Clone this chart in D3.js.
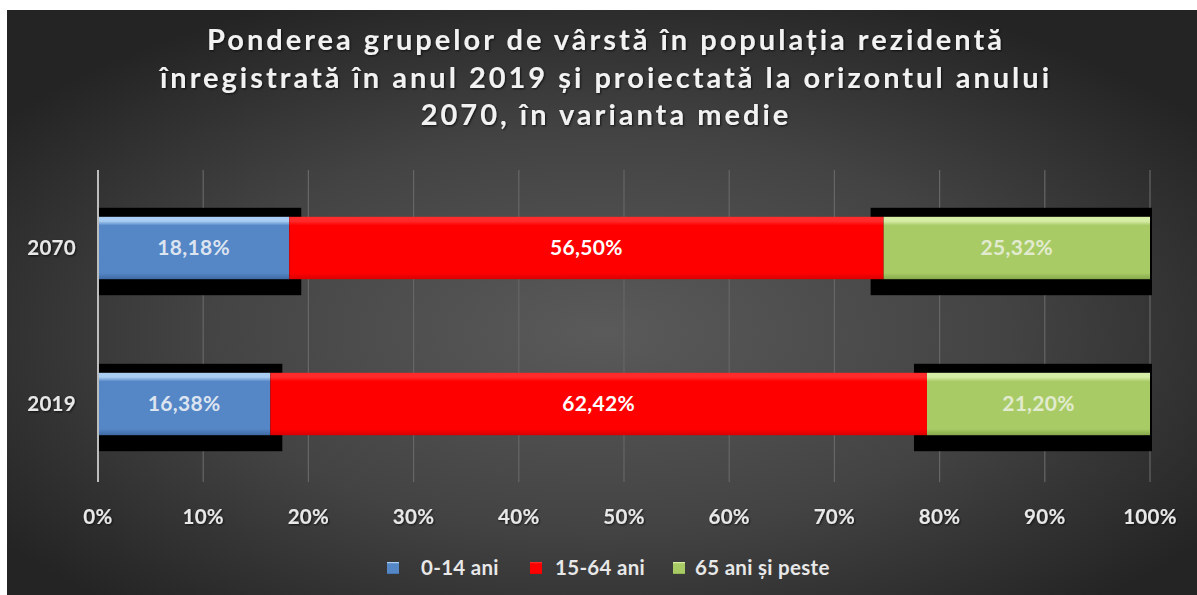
<!DOCTYPE html>
<html>
<head>
<meta charset="utf-8">
<script src="https://cdn.jsdelivr.net/npm/d3@7"></script>
<style>
  html, body { margin: 0; padding: 0; background: #fff; }
  svg { display: block; }
  text { font-family: Lato, "Open Sans", sans-serif; font-weight: bold; }
</style>
</head>
<body>
<div id="container"></div>
<script>
// chart data
var years = ["2070", "2019"];
var groups = ["0-14 ani", "15-64 ani", "65 ani și peste"];
var young = [18.18, 16.38];
var adult = [56.50, 62.42];
var old = [25.32, 21.20];
var ticks = [0, 10, 20, 30, 40, 50, 60, 70, 80, 90, 100];
var titleLines = [
  "Ponderea grupelor de vârstă în populația rezidentă",
  "înregistrată în anul 2019 și proiectată la orizontul anului",
  "2070, în varianta medie"
];

var w = 1197, h = 595;

var svg = d3.select("div#container")
  .append("svg")
  .attr("width", w)
  .attr("height", h);

var defs = svg.append("defs");

// dark radial background
var bg = defs.append("radialGradient")
  .attr("id", "bg")
  .attr("cx", "50%").attr("cy", "55%").attr("r", "62%");
bg.append("stop").attr("offset", "0%").attr("stop-color", "#5a5a5a");
bg.append("stop").attr("offset", "55%").attr("stop-color", "#434343");
bg.append("stop").attr("offset", "100%").attr("stop-color", "#242424");

// bevel gradients for bars
var colors = [
  { id: "g0", top: "#a9cdf3", main: "#5586c6", bot: "#3f6aa3" },
  { id: "g1", top: "#ff2a2a", main: "#ff0000", bot: "#d80000" },
  { id: "g2", top: "#d6eda6", main: "#a8cb66", bot: "#86a84a" }
];
colors.forEach(function(c) {
  var g = defs.append("linearGradient")
    .attr("id", c.id).attr("x1", 0).attr("y1", 0).attr("x2", 0).attr("y2", 1);
  g.append("stop").attr("offset", "0%").attr("stop-color", c.top);
  g.append("stop").attr("offset", "7%").attr("stop-color", c.top);
  g.append("stop").attr("offset", "14%").attr("stop-color", c.main);
  g.append("stop").attr("offset", "90%").attr("stop-color", c.main);
  g.append("stop").attr("offset", "100%").attr("stop-color", c.bot);
});

var shadow = defs.append("filter").attr("id", "ts")
  .attr("x", "-5%").attr("y", "-20%").attr("width", "110%").attr("height", "140%");
shadow.append("feDropShadow")
  .attr("dx", 1).attr("dy", 1).attr("stdDeviation", 1)
  .attr("flood-color", "#000").attr("flood-opacity", 0.7);

svg.append("rect")
  .attr("x", 7).attr("y", 10)
  .attr("width", w - 7).attr("height", h - 10)
  .attr("fill", "url(#bg)");

// scales
var margin = { left: 98, right: 47, top: 170, bottom: 113 };
var x = d3.scaleLinear().domain([0, 100]).range([margin.left, w - margin.right]);
var y = d3.scaleBand().domain(years)
  .range([margin.top, h - margin.bottom])
  .paddingInner(0.6).paddingOuter(0.3);

// gridlines
svg.append("g")
  .selectAll("line")
  .data(ticks.slice(1))
  .join("line")
  .attr("x1", function(d) { return x(d); })
  .attr("x2", function(d) { return x(d); })
  .attr("y1", margin.top)
  .attr("y2", h - margin.bottom)
  .attr("stroke", "#666")
  .attr("stroke-width", 1.2);

// stack the data
var rows = years.map(function(yr, i) {
  return { year: yr, vals: [young[i], adult[i], old[i]] };
});

var segs = [];
rows.forEach(function(r) {
  var acc = 0;
  r.vals.forEach(function(v, k) {
    segs.push({ year: r.year, k: k, x0: acc, x1: acc + v, v: v });
    acc += v;
  });
});

var bh = y.bandwidth();

// black shadow boxes behind the outer segments
svg.append("g")
  .selectAll("rect")
  .data(segs.filter(function(d) { return d.k !== 1; }))
  .join("rect")
  .attr("x", function(d) { return x(d.x0) - (d.k === 2 ? 13 : 0); })
  .attr("width", function(d) { return x(d.x1) - x(d.x0) + (d.k === 2 ? 15 : 12); })
  .attr("y", function(d) { return y(d.year) - 9; })
  .attr("height", bh + 25)
  .attr("fill", "#000");

// bars
svg.append("g")
  .selectAll("rect")
  .data(segs)
  .join("rect")
  .attr("x", function(d) { return x(d.x0); })
  .attr("width", function(d) { return x(d.x1) - x(d.x0); })
  .attr("y", function(d) { return y(d.year); })
  .attr("height", bh)
  .attr("fill", function(d) { return "url(#g" + d.k + ")"; });

// axis line at 0
svg.append("line")
  .attr("x1", x(0)).attr("x2", x(0))
  .attr("y1", margin.top).attr("y2", h - margin.bottom)
  .attr("stroke", "#bdbdbd")
  .attr("stroke-width", 2);

// value labels
var labelColors = ["#dce4f0", "#ffffff", "#e2ebcf"];
svg.append("g")
  .selectAll("text")
  .data(segs)
  .join("text")
  .attr("x", function(d) { return (x(d.x0) + x(d.x1)) / 2; })
  .attr("y", function(d) { return y(d.year) + bh / 2; })
  .attr("dy", "0.35em")
  .attr("text-anchor", "middle")
  .attr("font-size", 21)
  .attr("letter-spacing", 0.3)
  .attr("fill", function(d) { return labelColors[d.k]; })
  .text(function(d) { return d3.format(".2f")(d.v).replace(".", ",") + "%"; });

// category labels
svg.append("g")
  .selectAll("text")
  .data(years)
  .join("text")
  .attr("x", 76)
  .attr("y", function(d) { return y(d) + bh / 2; })
  .attr("dy", "0.35em")
  .attr("text-anchor", "end")
  .attr("font-size", 20.5)
  .attr("letter-spacing", 0.3)
  .attr("fill", "#e8e8e8")
  .attr("filter", "url(#ts)")
  .text(function(d) { return d; });

// x tick labels
svg.append("g")
  .selectAll("text")
  .data(ticks)
  .join("text")
  .attr("x", function(d) { return x(d); })
  .attr("y", 517)
  .attr("dy", "0.35em")
  .attr("text-anchor", "middle")
  .attr("font-size", 20.5)
  .attr("letter-spacing", 0.3)
  .attr("fill", "#e8e8e8")
  .attr("filter", "url(#ts)")
  .text(function(d) { return d + "%"; });

// title
svg.append("g")
  .selectAll("text")
  .data(titleLines)
  .join("text")
  .attr("x", 606)
  .attr("y", function(d, i) { return 40 + i * 37.5; })
  .attr("dy", "0.35em")
  .attr("text-anchor", "middle")
  .attr("font-size", 29)
  .attr("letter-spacing", 3)
  .attr("fill", "#f2f2f2")
  .attr("filter", "url(#ts)")
  .text(function(d) { return d; });

// legend
var legendX = [387, 530, 673];
var leg = svg.append("g")
  .selectAll("g")
  .data(groups)
  .join("g")
  .attr("transform", function(d, i) { return "translate(" + legendX[i] + ",568)"; });

leg.append("rect")
  .attr("x", 0).attr("y", -6)
  .attr("width", 12).attr("height", 12)
  .attr("fill", function(d, i) { return "url(#g" + i + ")"; });

leg.append("text")
  .attr("x", function(d, i) { return [34, 25, 22][i]; })
  .attr("dy", "0.35em")
  .attr("font-size", 20.5)
  .attr("letter-spacing", 0.3)
  .attr("fill", "#e8e8e8")
  .text(function(d) { return d; });
</script>
</body>
</html>
